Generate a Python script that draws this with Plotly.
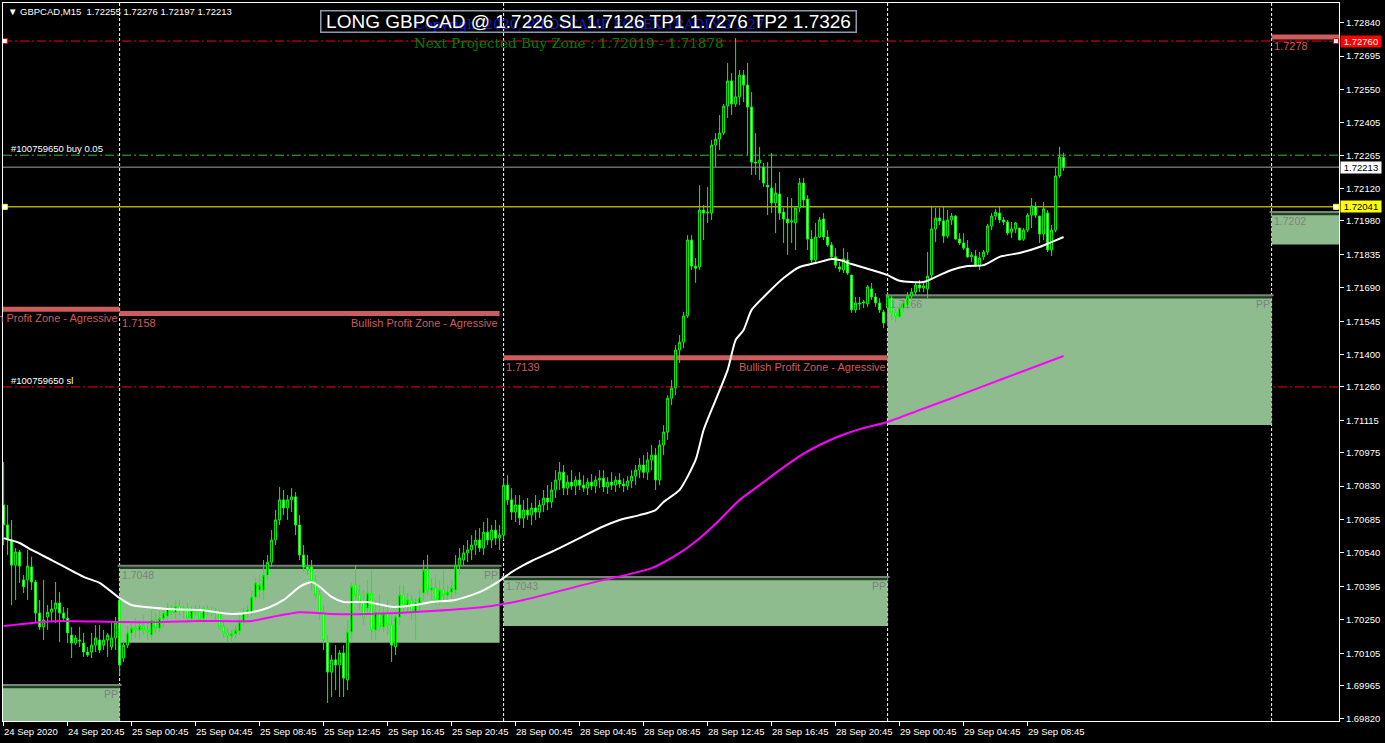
import plotly.graph_objects as go

# ---------------- data ----------------
bar_index = list(range(266))

opens = [1.70748,1.70661,1.70596,1.70487,1.70544,1.70423,1.70423,1.70479,1.70414,1.70279,
1.70219,1.70262,1.70283,1.70297,1.70323,1.70279,1.70257,1.70184,1.70149,1.70162,
1.70149,1.70110,1.70110,1.70140,1.70162,1.70140,1.70162,1.70132,1.70171,1.70336,
1.70084,1.70140,1.70193,1.70214,1.70206,1.70223,1.70206,1.70184,1.70249,1.70214,
1.70257,1.70266,1.70292,1.70283,1.70306,1.70292,1.70301,1.70257,1.70292,1.70283,
1.70257,1.70297,1.70288,1.70279,1.70279,1.70219,1.70193,1.70180,1.70189,1.70202,
1.70240,1.70283,1.70283,1.70349,1.70379,1.70379,1.70444,1.70500,1.70596,1.70683,
1.70770,1.70735,1.70770,1.70783,1.70661,1.70531,1.70479,1.70479,1.70414,1.70357,
1.70279,1.70153,1.70023,1.70076,1.70054,1.70106,1.69989,1.70197,1.70401,1.70357,
1.70327,1.70301,1.70366,1.70206,1.70283,1.70219,1.70275,1.70227,1.70132,1.70262,
1.70357,1.70314,1.70336,1.70283,1.70323,1.70366,1.70466,1.70379,1.70388,1.70336,
1.70379,1.70357,1.70370,1.70379,1.70487,1.70509,1.70540,1.70553,1.70574,1.70596,
1.70561,1.70630,1.70596,1.70639,1.70604,1.70617,1.70834,1.70770,1.70717,1.70748,
1.70691,1.70726,1.70704,1.70735,1.70717,1.70748,1.70778,1.70761,1.70813,1.70856,
1.70890,1.70821,1.70847,1.70830,1.70856,1.70834,1.70821,1.70847,1.70830,1.70856,
1.70864,1.70826,1.70847,1.70834,1.70856,1.70839,1.70830,1.70852,1.70873,1.70899,
1.70921,1.70890,1.70943,1.70964,1.70856,1.71008,1.71064,1.71211,1.71255,1.71420,
1.71454,1.71568,1.71897,1.71784,1.71780,1.72027,1.72014,1.72014,1.72309,1.72335,
1.72361,1.72478,1.72587,1.72487,1.72518,1.72612,1.72569,1.72474,1.72235,1.72231,
1.72214,1.72135,1.72122,1.72058,1.72097,1.72018,1.71988,1.71975,1.71971,1.72036,
1.72144,1.72075,1.71901,1.71810,1.71910,1.71988,1.71910,1.71875,1.71824,1.71780,
1.71767,1.71810,1.71745,1.71594,1.71624,1.71624,1.71620,1.71685,1.71650,1.71624,
1.71585,1.71602,1.71645,1.71581,1.71564,1.71602,1.71615,1.71654,1.71671,1.71702,
1.71689,1.71685,1.71745,1.71945,1.71992,1.71980,1.71914,1.71984,1.72001,1.71901,
1.71884,1.71862,1.71824,1.71828,1.71788,1.71824,1.71845,1.71958,1.72001,1.72014,
1.71984,1.71975,1.71931,1.71945,1.71949,1.71901,1.71940,1.72005,1.72041,1.72001,
1.71923,1.72014,1.71854,1.71940,1.72175,1.72255]

highs = [1.70934,1.70748,1.70683,1.70561,1.70553,1.70444,1.70553,1.70523,1.70423,1.70336,
1.70423,1.70314,1.70336,1.70414,1.70370,1.70306,1.70301,1.70219,1.70184,1.70219,
1.70193,1.70132,1.70193,1.70227,1.70227,1.70206,1.70193,1.70236,1.70262,1.70349,
1.70162,1.70227,1.70240,1.70257,1.70249,1.70270,1.70236,1.70292,1.70279,1.70292,
1.70301,1.70323,1.70314,1.70336,1.70336,1.70314,1.70323,1.70310,1.70314,1.70314,
1.70310,1.70314,1.70306,1.70301,1.70292,1.70240,1.70214,1.70206,1.70227,1.70270,
1.70301,1.70314,1.70379,1.70431,1.70444,1.70509,1.70531,1.70639,1.70726,1.70826,
1.70813,1.70791,1.70821,1.70804,1.70704,1.70574,1.70531,1.70509,1.70444,1.70379,
1.70314,1.70184,1.70097,1.70140,1.70119,1.70140,1.70249,1.70410,1.70487,1.70401,
1.70379,1.70423,1.70466,1.70336,1.70357,1.70314,1.70336,1.70270,1.70292,1.70401,
1.70401,1.70366,1.70357,1.70344,1.70379,1.70509,1.70531,1.70431,1.70444,1.70423,
1.70466,1.70401,1.70423,1.70531,1.70561,1.70574,1.70596,1.70617,1.70639,1.70648,
1.70674,1.70691,1.70661,1.70683,1.70661,1.70864,1.70877,1.70821,1.70791,1.70791,
1.70770,1.70778,1.70757,1.70791,1.70770,1.70813,1.70834,1.70847,1.70899,1.70934,
1.70921,1.70877,1.70899,1.70873,1.70890,1.70877,1.70864,1.70882,1.70873,1.70899,
1.70899,1.70869,1.70890,1.70873,1.70886,1.70864,1.70873,1.70899,1.70921,1.70951,
1.70964,1.70977,1.71008,1.70995,1.71030,1.71094,1.71224,1.71290,1.71441,1.71485,
1.71585,1.71918,1.71918,1.71819,1.72135,1.72049,1.72127,1.72331,1.72361,1.72439,
1.72487,1.72665,1.72621,1.72773,1.72634,1.72634,1.72665,1.72539,1.72361,1.72301,
1.72231,1.72235,1.72274,1.72144,1.72192,1.72036,1.72084,1.72079,1.72036,1.72166,
1.72166,1.72092,1.71940,1.71971,1.71997,1.72014,1.71940,1.71888,1.71862,1.71801,
1.71862,1.71845,1.71745,1.71650,1.71650,1.71637,1.71702,1.71711,1.71667,1.71645,
1.71594,1.71671,1.71654,1.71594,1.71624,1.71645,1.71671,1.71689,1.71715,1.71724,
1.71711,1.71845,1.72045,1.72036,1.72036,1.72041,1.72027,1.72014,1.72005,1.71927,
1.71927,1.71897,1.71845,1.71854,1.71845,1.71854,1.71967,1.72014,1.72032,1.72041,
1.71997,1.71984,1.71975,1.71975,1.71949,1.71949,1.72014,1.72079,1.72062,1.72001,
1.72062,1.72027,1.71962,1.72209,1.72301,1.72276]

lows = [1.70574,1.70531,1.70314,1.70336,1.70410,1.70366,1.70336,1.70379,1.70240,1.70206,
1.70162,1.70206,1.70240,1.70236,1.70153,1.70249,1.70149,1.70084,1.70140,1.70132,
1.70089,1.70089,1.70084,1.70110,1.70106,1.70119,1.70089,1.70119,1.70119,1.70010,
1.70067,1.70127,1.70162,1.70171,1.70162,1.70184,1.70162,1.70162,1.70193,1.70197,
1.70219,1.70240,1.70270,1.70257,1.70270,1.70257,1.70240,1.70249,1.70270,1.70240,
1.70236,1.70270,1.70266,1.70249,1.70206,1.70171,1.70153,1.70149,1.70171,1.70184,
1.70227,1.70257,1.70270,1.70336,1.70344,1.70336,1.70423,1.70479,1.70574,1.70661,
1.70704,1.70683,1.70717,1.70617,1.70509,1.70457,1.70444,1.70379,1.70336,1.70249,
1.70119,1.69889,1.69915,1.69945,1.69915,1.69915,1.69945,1.70162,1.70336,1.70292,
1.70227,1.70283,1.70162,1.70162,1.70206,1.70197,1.70184,1.70067,1.70097,1.70227,
1.70283,1.70283,1.70249,1.70162,1.70292,1.70336,1.70357,1.70336,1.70314,1.70314,
1.70336,1.70327,1.70336,1.70357,1.70444,1.70487,1.70500,1.70509,1.70531,1.70544,
1.70531,1.70574,1.70561,1.70574,1.70553,1.70596,1.70748,1.70683,1.70674,1.70661,
1.70648,1.70683,1.70661,1.70683,1.70691,1.70717,1.70726,1.70735,1.70778,1.70813,
1.70791,1.70791,1.70813,1.70791,1.70813,1.70804,1.70791,1.70813,1.70800,1.70821,
1.70804,1.70796,1.70813,1.70804,1.70821,1.70804,1.70813,1.70821,1.70834,1.70864,
1.70864,1.70856,1.70899,1.70813,1.70834,1.70964,1.71030,1.71181,1.71224,1.71364,
1.71428,1.71559,1.71767,1.71711,1.71767,1.71897,1.71971,1.71984,1.72214,1.72287,
1.72352,1.72426,1.72439,1.72474,1.72482,1.72495,1.72265,1.72179,1.72179,1.72157,
1.72127,1.72005,1.72014,1.71927,1.71984,1.71884,1.71832,1.71884,1.71854,1.72018,
1.72036,1.71854,1.71797,1.71797,1.71905,1.71897,1.71867,1.71810,1.71775,1.71758,
1.71754,1.71745,1.71581,1.71581,1.71594,1.71602,1.71607,1.71637,1.71607,1.71581,
1.71515,1.71524,1.71550,1.71541,1.71559,1.71585,1.71594,1.71637,1.71658,1.71671,
1.71671,1.71645,1.71724,1.71888,1.71962,1.71884,1.71905,1.71962,1.71897,1.71875,
1.71854,1.71819,1.71801,1.71780,1.71767,1.71810,1.71832,1.71940,1.71984,1.71971,
1.71962,1.71918,1.71905,1.71927,1.71897,1.71893,1.71931,1.71949,1.71992,1.71884,
1.71897,1.71845,1.71828,1.71931,1.72166,1.72197]

closes = [1.70661,1.70596,1.70487,1.70544,1.70483,1.70393,1.70483,1.70414,1.70279,1.70219,
1.70249,1.70283,1.70297,1.70323,1.70279,1.70257,1.70193,1.70149,1.70171,1.70158,
1.70110,1.70097,1.70140,1.70171,1.70119,1.70162,1.70184,1.70171,1.70236,1.70054,
1.70140,1.70193,1.70214,1.70206,1.70223,1.70206,1.70197,1.70249,1.70214,1.70257,
1.70279,1.70301,1.70283,1.70306,1.70292,1.70301,1.70257,1.70292,1.70283,1.70249,
1.70297,1.70288,1.70279,1.70288,1.70219,1.70193,1.70180,1.70189,1.70206,1.70240,
1.70283,1.70292,1.70349,1.70410,1.70401,1.70444,1.70500,1.70596,1.70683,1.70770,
1.70735,1.70770,1.70783,1.70661,1.70531,1.70479,1.70466,1.70414,1.70357,1.70279,
1.70162,1.70023,1.70076,1.70054,1.70106,1.69997,1.70197,1.70393,1.70357,1.70327,
1.70262,1.70366,1.70206,1.70283,1.70219,1.70275,1.70227,1.70140,1.70262,1.70357,
1.70314,1.70336,1.70283,1.70323,1.70344,1.70466,1.70379,1.70388,1.70336,1.70379,
1.70357,1.70370,1.70388,1.70487,1.70518,1.70540,1.70553,1.70574,1.70596,1.70561,
1.70630,1.70596,1.70639,1.70604,1.70617,1.70834,1.70770,1.70717,1.70748,1.70691,
1.70726,1.70704,1.70735,1.70717,1.70748,1.70778,1.70761,1.70813,1.70856,1.70890,
1.70821,1.70847,1.70830,1.70856,1.70834,1.70821,1.70847,1.70830,1.70856,1.70864,
1.70826,1.70847,1.70834,1.70856,1.70839,1.70830,1.70852,1.70873,1.70899,1.70921,
1.70890,1.70943,1.70964,1.70856,1.71008,1.71064,1.71211,1.71255,1.71420,1.71454,
1.71568,1.71897,1.71784,1.71775,1.72027,1.72014,1.72018,1.72309,1.72335,1.72361,
1.72478,1.72587,1.72487,1.72518,1.72612,1.72569,1.72474,1.72235,1.72231,1.72244,
1.72144,1.72127,1.72058,1.72101,1.72014,1.71988,1.71971,1.71980,1.72036,1.72144,
1.72071,1.71901,1.71810,1.71910,1.71984,1.71910,1.71875,1.71824,1.71788,1.71771,
1.71815,1.71754,1.71594,1.71624,1.71620,1.71628,1.71694,1.71650,1.71624,1.71594,
1.71537,1.71654,1.71581,1.71564,1.71602,1.71624,1.71654,1.71671,1.71702,1.71689,
1.71698,1.71741,1.71945,1.71992,1.71980,1.71914,1.71984,1.72001,1.71901,1.71884,
1.71862,1.71824,1.71832,1.71788,1.71819,1.71845,1.71958,1.72001,1.72018,1.71984,
1.71975,1.71927,1.71945,1.71971,1.71897,1.71940,1.72005,1.72045,1.72005,1.71923,
1.72032,1.71854,1.71940,1.72175,1.72257,1.72213]

# moving averages (white = fast, magenta = slow), sampled at these bars
ma_fast_bars = [0,4,7,12,20,24,29,32,41,49,57,62,66,70,74,77,79,82,85,91,97,103,107,113,
                119,124,127,130,132,139,144,149,154,159,163,165,169,173,175,178,181,183,
                185,187,191,195,199,203,207,209,212,217,221,224,230,234,237,241,245,249,
                254,259,262,265]
ma_fast_vals = [1.70604,1.70583,1.70553,1.70509,1.70436,1.70410,1.70344,1.70314,1.70297,
                1.70292,1.70275,1.70283,1.70301,1.70336,1.70393,1.70414,1.70393,1.70349,
                1.70327,1.70327,1.70306,1.70314,1.70327,1.70336,1.70370,1.70419,1.70457,
                1.70487,1.70505,1.70561,1.70604,1.70648,1.70683,1.70704,1.70726,1.70761,
                1.70813,1.70943,1.71073,1.71203,1.71333,1.71463,1.71507,1.71594,1.71667,
                1.71732,1.71780,1.71797,1.71815,1.71810,1.71793,1.71767,1.71745,1.71720,
                1.71715,1.71745,1.71767,1.71784,1.71788,1.71824,1.71841,1.71867,1.71888,
                1.71910]
ma_slow_bars = [0,7,14,29,39,49,62,67,74,82,91,107,122,130,147,162,169,174,179,184,189,
                194,199,204,209,214,221,229,237,249,257,265]
ma_slow_vals = [1.70223,1.70236,1.70245,1.70240,1.70240,1.70245,1.70245,1.70262,1.70283,
                1.70275,1.70275,1.70288,1.70310,1.70336,1.70410,1.70474,1.70540,1.70604,
                1.70683,1.70770,1.70834,1.70899,1.70960,1.71008,1.71047,1.71077,1.71108,
                1.71160,1.71211,1.71290,1.71342,1.71394]

y_tick_vals = [1.72840,1.72695,1.72550,1.72405,1.72265,1.72120,1.71980,1.71835,1.71690,
               1.71545,1.71400,1.71260,1.71115,1.70975,1.70830,1.70685,1.70540,1.70395,
               1.70250,1.70105,1.69965,1.69820]
x_tick_bars = [0,16,32,48,64,80,96,112,128,144,160,176,192,208,224,240,256]
x_tick_text = ["24 Sep 2020","24 Sep 20:45","25 Sep 00:45","25 Sep 04:45","25 Sep 08:45",
               "25 Sep 12:45","25 Sep 16:45","25 Sep 20:45","28 Sep 00:45","28 Sep 04:45",
               "28 Sep 08:45","28 Sep 12:45","28 Sep 16:45","28 Sep 20:45","29 Sep 00:45",
               "29 Sep 04:45","29 Sep 08:45"]

day_separator_bars = [29, 125, 221, 317]

zone_start = [-67, 29, 125, 221, 317]
zone_end = [29, 124, 221, 317, 413]
zone_top = [1.69967, 1.70484, 1.70436, 1.71658, 1.72019]
zone_bottom = [1.69600, 1.70150, 1.70223, 1.71095, 1.71878]
zone_label = ["1.6997", "1.7048", "1.7043", "1.7166", "1.7202"]

profit_start = [-67, 29, 125, 317]
profit_end = [29, 124, 221, 413]
profit_level = [1.71597, 1.71578, 1.71386, 1.72778]
profit_label = ["1.7160", "1.7158", "1.7139", "1.7278"]

tp_level = 1.72760
order_level = 1.72265
bid_level = 1.72213
yellow_level = 1.72041
sl_level = 1.71260

header_values = [1.72255, 1.72276, 1.72197, 1.72213]
trade_entry, trade_sl, trade_tp1, trade_tp2 = 1.7226, 1.7126, 1.7276, 1.7326

# ---------------- layout geometry ----------------
W, H = 1385, 743
M_L, M_R, M_T, M_B = 3, 46, 3, 22
PLOT_W = W - M_L - M_R
PLOT_H = H - M_T - M_B
X_RANGE = [-0.15, 333.85]
Y_RANGE = [1.69811, 1.72925]
PX = (Y_RANGE[1] - Y_RANGE[0]) / PLOT_H


def paper_x(px):
    return (px - M_L) / PLOT_W


def paper_y(py):
    return (H - M_B - py) / PLOT_H


SANS = "Liberation Sans, Arial, sans-serif"
SERIF = "DejaVu Serif, Liberation Serif, serif"
ZONE_FILL = "#8fbc8f"
ZONE_DARK = "#1d451d"
ZONE_GRAY = "#808080"
PROFIT_RED = "#cd5c5c"

fig = go.Figure()

fig.add_trace(go.Candlestick(
    x=bar_index, open=opens, high=highs, low=lows, close=closes,
    increasing=dict(line=dict(color="#00ff00", width=1), fillcolor="#000000"),
    decreasing=dict(line=dict(color="#00ff00", width=1), fillcolor="#ffffff"),
    whiskerwidth=0, hoverinfo="skip", showlegend=False,
))

fig.add_trace(go.Scatter(x=ma_slow_bars, y=ma_slow_vals, mode="lines",
                         line=dict(color="#ff00ff", width=2, shape="spline", smoothing=0.6),
                         hoverinfo="skip", showlegend=False))
fig.add_trace(go.Scatter(x=ma_fast_bars, y=ma_fast_vals, mode="lines",
                         line=dict(color="#ffffff", width=2, shape="spline", smoothing=0.6),
                         hoverinfo="skip", showlegend=False))

shapes = []
annotations = []

# zones
for k in range(len(zone_start)):
    x0, x1 = zone_start[k], zone_end[k]
    top, bot = zone_top[k], zone_bottom[k]
    shapes.append(dict(type="rect", xref="x", yref="y", x0=x0, x1=x1,
                       y0=bot, y1=top - 2.5 * PX, fillcolor=ZONE_FILL,
                       line=dict(width=0), layer="below"))
    shapes.append(dict(type="line", xref="x", yref="y", x0=x0, x1=x1,
                       y0=top - 2 * PX, y1=top - 2 * PX,
                       line=dict(color=ZONE_DARK, width=2.5), layer="below"))
    shapes.append(dict(type="line", xref="x", yref="y", x0=x0 - 0.5, x1=x1 + 0.5,
                       y0=top, y1=top, line=dict(color=ZONE_GRAY, width=2),
                       layer="below"))
    annotations.append(dict(x=x0, y=top, xref="x", yref="y", text=zone_label[k],
                            xanchor="left", yanchor="top", showarrow=False, yshift=-1,
                            font=dict(family=SANS, size=10.5, color=ZONE_GRAY)))
    annotations.append(dict(x=x1, y=top, xref="x", yref="y", text="PP",
                            xanchor="right", yanchor="top", showarrow=False, yshift=-1,
                            font=dict(family=SANS, size=10.5, color=ZONE_GRAY)))

# profit zone lines
for k in range(len(profit_start)):
    x0, x1, lv = profit_start[k], profit_end[k], profit_level[k]
    shapes.append(dict(type="line", xref="x", yref="y", x0=x0, x1=x1, y0=lv, y1=lv,
                       line=dict(color=PROFIT_RED, width=5), layer="below"))
    annotations.append(dict(x=x0, y=lv, xref="x", yref="y", text=profit_label[k],
                            xanchor="left", yanchor="top", showarrow=False, yshift=-1,
                            font=dict(family=SANS, size=11, color=PROFIT_RED)))
    annotations.append(dict(x=x1, y=lv, xref="x", yref="y",
                            text="Bullish Profit Zone - Agressive",
                            xanchor="right", yanchor="top", showarrow=False, yshift=-1,
                            font=dict(family=SANS, size=11, color=PROFIT_RED)))

# day separators
for b in day_separator_bars:
    shapes.append(dict(type="line", xref="x", yref="paper", x0=b, x1=b, y0=0, y1=1,
                       line=dict(color="#ffffff", width=1, dash="3px,2px"),
                       layer="below"))

# horizontal levels
def hline(level, color, dash=None, width=1):
    ln = dict(color=color, width=width)
    if dash:
        ln["dash"] = dash
    shapes.append(dict(type="line", xref="paper", yref="y", x0=0, x1=1,
                       y0=level, y1=level, line=ln, layer="below"))

hline(tp_level, "#ff0000", "9px,3px,2px,3px")
hline(order_level, "#3fb83f", "9px,3px,2px,3px")
hline(bid_level, "#a0a0a0")
hline(yellow_level, "#ffff00")
hline(sl_level, "#ff0000", "9px,3px,2px,3px")

fig.add_trace(go.Scatter(
    x=[X_RANGE[0] + 0.45, X_RANGE[1] - 0.75, X_RANGE[0] + 0.45, X_RANGE[1] - 0.75],
    y=[tp_level, tp_level, yellow_level, yellow_level], mode="markers",
    marker=dict(symbol="square", size=5, color="#ffffff",
                line=dict(color=["#ff0000", "#ff0000", "#ffff00", "#ffff00"], width=1)),
    hoverinfo="skip", showlegend=False, cliponaxis=False))

# order labels
annotations.append(dict(x=paper_x(9), y=order_level, xref="paper", yref="y",
                        text="#100759650 buy 0.05", xanchor="left", yanchor="bottom",
                        yshift=-1, showarrow=False,
                        font=dict(family=SANS, size=9.5, color="#ffffff")))
annotations.append(dict(x=paper_x(9), y=sl_level, xref="paper", yref="y",
                        text="#100759650 sl", xanchor="left", yanchor="bottom",
                        yshift=-1, showarrow=False,
                        font=dict(family=SANS, size=9.5, color="#ffffff")))

# right-side price boxes
for lv, bg, fg in [(tp_level, "#ff0000", "#ffffff"), (bid_level, "#ffffff", "#000000"),
                   (yellow_level, "#ffff00", "#000000")]:
    annotations.append(dict(x=1, y=lv, xref="paper", yref="y", text=f"{lv:.5f}",
                            xanchor="left", yanchor="middle", xshift=1, showarrow=False,
                            width=40, height=11, bgcolor=bg, borderpad=0,
                            font=dict(family=SANS, size=9.5, color=fg)))

# x tick labels (left aligned at tick, MT4 style)
for b, t in zip(x_tick_bars, x_tick_text):
    annotations.append(dict(x=b, y=0, xref="x", yref="paper", text=t, xanchor="left",
                            yanchor="top", yshift=-3, xshift=-2, showarrow=False,
                            font=dict(family=SANS, size=9.5, color="#ffffff")))

# header
annotations.append(dict(x=paper_x(6), y=paper_y(11), xref="paper", yref="paper",
                        text="▼ GBPCAD,M15  " + " ".join(f"{v:.5f}" for v in header_values),
                        xanchor="left", yanchor="middle", showarrow=False,
                        font=dict(family=SANS, size=9.5, color="#ffffff")))

# overlapping copyright text (drawn underneath the trade box text)
annotations.append(dict(x=paper_x(413), y=paper_y(24), xref="paper", yref="paper",
                        text="Copyright 2020, PILOTCAMP FOREX TRADING 1.27",
                        xanchor="left", yanchor="middle", showarrow=False,
                        font=dict(family=SERIF, size=13, color="#1c1cc8")))

# trade box
annotations.append(dict(x=paper_x(588.5), y=paper_y(21.5), xref="paper", yref="paper",
                        text=f"LONG GBPCAD @ {trade_entry:.4f} SL {trade_sl:.4f} "
                             f"TP1 {trade_tp1:.4f} TP2 {trade_tp2:.4f}",
                        xanchor="center", yanchor="middle", showarrow=False,
                        width=534, height=20, borderpad=0, bordercolor="#8c9bab",
                        borderwidth=1.5,
                        font=dict(family=SANS, size=19, color="#ffffff")))

# next projected buy zone
annotations.append(dict(x=paper_x(412), y=paper_y(43), xref="paper", yref="paper",
                        text=f"Next Projected Buy Zone : {zone_top[-1]:.5f} - {zone_bottom[-1]:.5f}",
                        xanchor="left", yanchor="middle", showarrow=False,
                        font=dict(family=SERIF, size=13.5, color="#008000")))

fig.update_layout(
    width=W, height=H,
    margin=dict(l=M_L, r=M_R, t=M_T, b=M_B, pad=0),
    paper_bgcolor="#000000", plot_bgcolor="#000000",
    showlegend=False,
    shapes=shapes, annotations=annotations,
    xaxis=dict(range=X_RANGE, showgrid=False, zeroline=False, showline=True,
               linecolor="#ffffff", linewidth=1, mirror=True,
               tickvals=x_tick_bars, ticks="outside", ticklen=4, tickcolor="#ffffff",
               showticklabels=False, rangeslider=dict(visible=False), fixedrange=True),
    yaxis=dict(range=Y_RANGE, side="right", showgrid=False, zeroline=False,
               showline=True, linecolor="#ffffff", linewidth=1, mirror=True,
               tickvals=y_tick_vals, ticktext=[f"{v:.5f}" for v in y_tick_vals],
               ticks="outside", ticklen=4, tickcolor="#ffffff",
               tickfont=dict(family=SANS, size=9.5, color="#ffffff"), fixedrange=True),
)

fig.write_html("out.html", config={"displayModeBar": False},
               post_script="document.body.style.margin='0';document.body.style.overflow='hidden';")
